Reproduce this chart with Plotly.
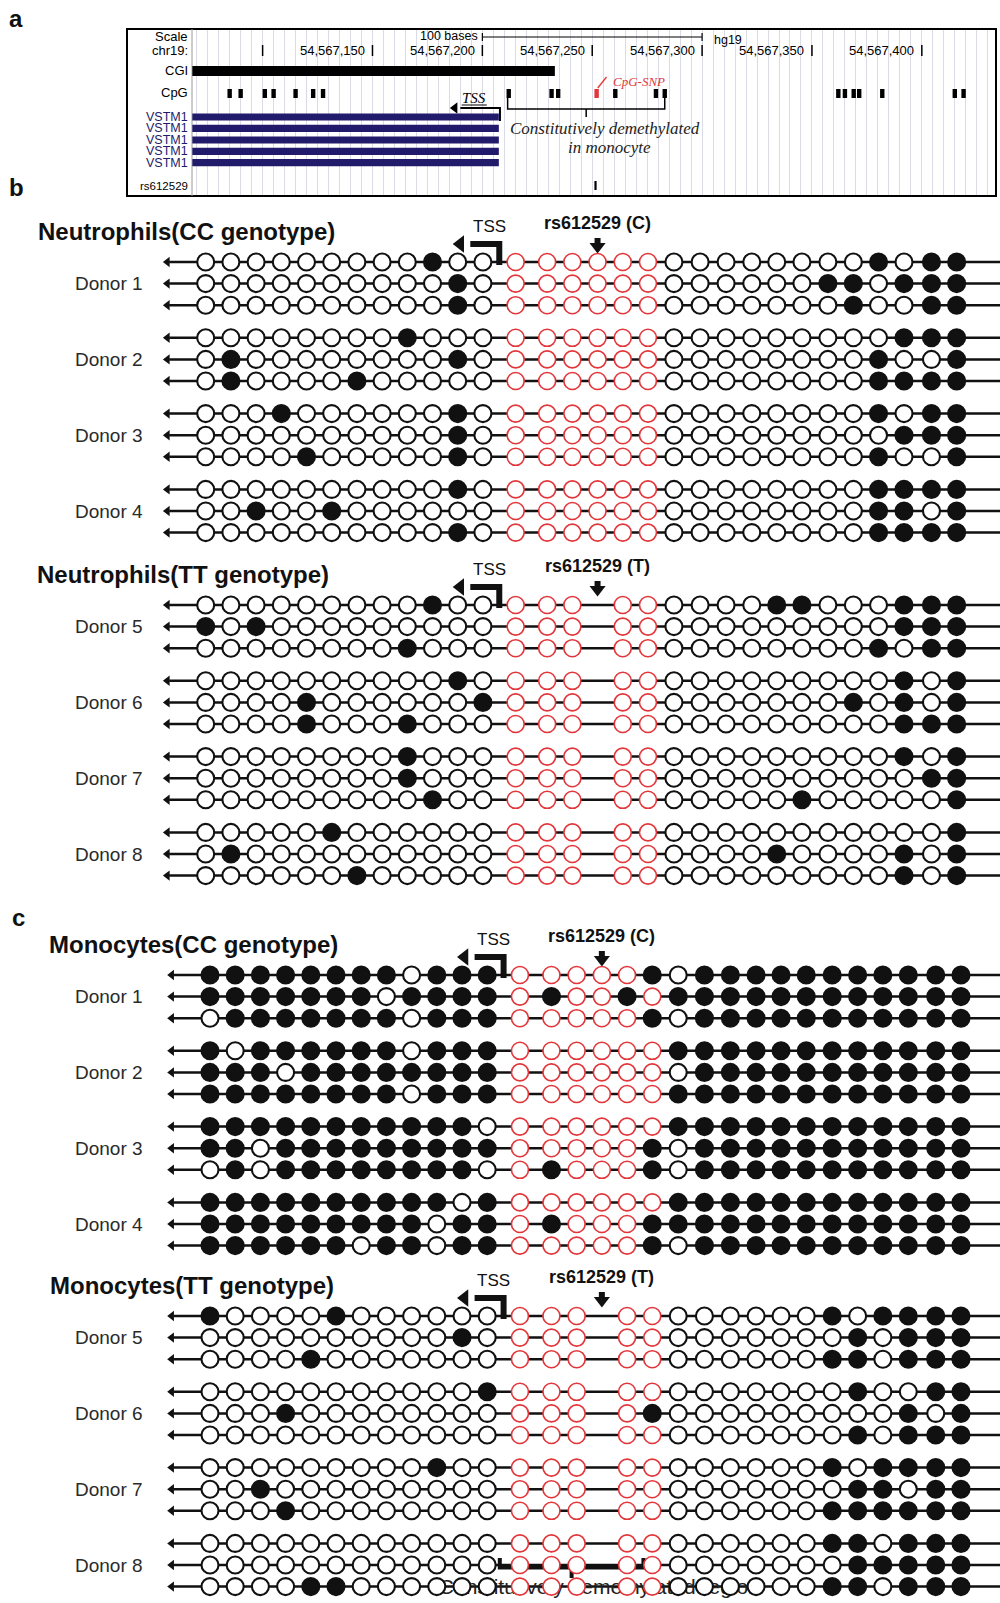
import plotly.graph_objects as go

W, H = 1000, 1603
CHR_START = 54567000  # chr19 coordinate origin for panel a offsets

# ---------------- Panel a data (bases relative to chr19:54,567,000) ----------------
ruler_ticks = [100, 150, 200, 250, 300, 350, 400]
ruler_labels = ["", "54,567,150", "54,567,200", "54,567,250", "54,567,300", "54,567,350", "54,567,400"]
scale_bar = [200, 300]
cgi_span = [68, 233]
cpg_sites = [84, 89, 100, 104, 114, 122, 126.5, 211, 230.5, 233.5, 251, 259.5,
             278, 282, 361, 364, 368, 370.5, 381, 414, 418]
cpg_snp_site = 251
vstm1_starts = [68, 68, 68, 68, 68]
vstm1_ends = [207.5, 207.5, 207.5, 207.5, 207.5]
tss_site = 208
demeth_span = [211.5, 283]
rs612529_site = 251

# ---------------- Panels b, c data ----------------
# relative CpG positions along the bisulfite amplicon (30 CpGs)
cpg_pos = [0, 1, 2, 3, 4, 5, 6, 7, 8, 9, 10, 11,
           12.3, 13.55, 14.55, 15.55, 16.55, 17.55,
           18.58, 19.62, 20.65, 21.67, 22.66, 23.66, 24.69, 25.7, 26.7, 27.71, 28.8, 29.8]
region_idx = [12, 13, 14, 15, 16, 17]   # constitutively demethylated region (red)
snp_idx = 15                            # rs612529 CpG-SNP
tss_pos = 11.65

# '1' methylated, '0' unmethylated, '-' CpG absent (T allele)
neut_cc_rows = [
    "000000000100" "000000" "000000001011",
    "000000000010" "000000" "000000110111",
    "000000000010" "000000" "000000010011",
    "000000001000" "000000" "000000000111",
    "010000000010" "000000" "000000001001",
    "010000100000" "000000" "000000001111",
    "000100000010" "000000" "000000001011",
    "000000000010" "000000" "000000000111",
    "000010000010" "000000" "000000001001",
    "000000000010" "000000" "000000001111",
    "001001000000" "000000" "000000001101",
    "000000000010" "000000" "000000001111",
]
neut_tt_rows = [
    "000000000100" "000-00" "000011000111",
    "101000000000" "000-00" "000000000111",
    "000000001000" "000-00" "000000001011",
    "000000000010" "000-00" "000000000101",
    "000010000001" "000-00" "000000010101",
    "000010001000" "000-00" "000000000111",
    "000000001000" "000-00" "000000000101",
    "000000001000" "000-00" "000000000011",
    "000000000100" "000-00" "000001000001",
    "000001000000" "000-00" "000000000001",
    "010000000000" "000-00" "000010000101",
    "000000100000" "000-00" "000000000101",
]
mono_cc_rows = [
    "111111110111" "000001" "011111111111",
    "111111101111" "010010" "111111111111",
    "011111110111" "000001" "011111111111",
    "101111110111" "000000" "111111111111",
    "111011111111" "000000" "011111111111",
    "111111110111" "000000" "111111111111",
    "111111111110" "000000" "111111111111",
    "110111111111" "000001" "011111111111",
    "010111111110" "010001" "011111111111",
    "111111111101" "000000" "111111111111",
    "111111111011" "010001" "111111111111",
    "111111011011" "000001" "011111111111",
]
mono_tt_rows = [
    "100001000000" "000-00" "000000101111",
    "000000000010" "000-00" "000000010111",
    "000010000000" "000-00" "000000110111",
    "000000000001" "000-00" "000000010011",
    "000100000000" "000-01" "000000000101",
    "000000000000" "000-00" "000000010111",
    "000000000100" "000-00" "000000101111",
    "001000000000" "000-00" "000000011011",
    "000100000000" "000-00" "000000111111",
    "000000000000" "000-00" "000000110111",
    "000000000000" "000-00" "000000011111",
    "000011000000" "000-00" "000000110111",
]
donors_first = ["Donor 1", "Donor 2", "Donor 3", "Donor 4"]
donors_second = ["Donor 5", "Donor 6", "Donor 7", "Donor 8"]

# ---------------- layout constants ----------------
FONT = "Liberation Sans, Arial, sans-serif"
SERIF = "Liberation Serif, Times New Roman, serif"
NAVY = "#221a6b"
RED = "#e2363a"
BLACK = "#111111"
DONOR_GAP = 75.8
ROW_GAP = 21.6


def G(off):
    return CHR_START + off


fig = go.Figure()
shapes = []
ann = []

# ================= Panel a =================
XA, YA = "x", "y2"
shapes.append(dict(type="rect", xref="paper", yref="paper", x0=127 / W, x1=996 / W,
                   y0=1 - 196 / H, y1=1 - 29 / H, line=dict(color="black", width=2)))
shapes.append(dict(type="line", xref="paper", yref="paper", x0=192 / W, x1=192 / W,
                   y0=1 - 196 / H, y1=1 - 29 / H, line=dict(color="#9a9a9a", width=1)))

Y_CGI = 71
left_labels = [("Scale", 37, "black", 13), ("chr19:", 51, "black", 13), ("CGI", Y_CGI, "black", 13),
               ("CpG", 93, "black", 13)]
vstm_y = [117, 128.3, 140, 151.3, 162.7]
for yv in vstm_y:
    left_labels.append(("VSTM1", yv, NAVY, 12.5))
left_labels.append(("rs612529", 186, "black", 11.5))
for txt, yv, col, sz in left_labels:
    ann.append(dict(text=txt, xref="paper", yref=YA, x=190 / W, y=yv, xanchor="right",
                    yanchor="middle", showarrow=False, font=dict(family=FONT, size=sz, color=col)))

# scale bar
sb_x = [G(scale_bar[0]), G(scale_bar[1]), None, G(scale_bar[0]), G(scale_bar[0]), None,
        G(scale_bar[1]), G(scale_bar[1])]
sb_y = [37, 37, None, 33, 41, None, 33, 41]
fig.add_trace(go.Scatter(x=sb_x, y=sb_y, xaxis=XA, yaxis=YA, mode="lines",
                         line=dict(color="black", width=1.2), hoverinfo="skip"))
ann.append(dict(text="100 bases", xref=XA, yref=YA, x=G(scale_bar[0] - 1), y=36, xanchor="right",
                showarrow=False, font=dict(family=FONT, size=12.5, color="black")))
ann.append(dict(text="hg19", xref=XA, yref=YA, x=G(scale_bar[1] + 4.5), y=40, xanchor="left",
                showarrow=False, font=dict(family=FONT, size=12.5, color="black")))

# ruler
rx, ry = [], []
for t in ruler_ticks:
    rx += [G(t), G(t), None]
    ry += [45, 56, None]
fig.add_trace(go.Scatter(x=rx, y=ry, xaxis=XA, yaxis=YA, mode="lines",
                         line=dict(color="black", width=1.5), hoverinfo="skip"))
for t, lab in zip(ruler_ticks, ruler_labels):
    if lab:
        ann.append(dict(text=lab, xref=XA, yref=YA, x=G(t - 2.5), y=51, xanchor="right",
                        showarrow=False, font=dict(family=FONT, size=13, color="black")))

# CGI
shapes.append(dict(type="rect", xref=XA, yref=YA, x0=G(cgi_span[0]), x1=G(cgi_span[1]),
                   y0=Y_CGI - 5, y1=Y_CGI + 5, fillcolor="black", line=dict(width=0)))
# CpG sites
for s in cpg_sites:
    col = RED if s == cpg_snp_site else "black"
    shapes.append(dict(type="rect", xref=XA, yref=YA, x0=G(s), x1=G(s + 2),
                       y0=89, y1=98, fillcolor=col, line=dict(width=0)))
ann.append(dict(text="<i>CpG-SNP</i>", xref=XA, yref=YA, x=G(cpg_snp_site + 20.5), y=82,
                showarrow=False, font=dict(family=SERIF, size=13, color=RED)))
fig.add_trace(go.Scatter(x=[G(cpg_snp_site + 1.5), G(cpg_snp_site + 5.5)], y=[88, 77],
                         xaxis=XA, yaxis=YA, mode="lines", line=dict(color=RED, width=1.3),
                         hoverinfo="skip"))
# VSTM1 transcripts
for st, en, yv in zip(vstm1_starts, vstm1_ends, vstm_y):
    shapes.append(dict(type="rect", xref=XA, yref=YA, x0=G(st), x1=G(en), y0=yv - 3.6,
                       y1=yv + 3.6, fillcolor=NAVY, line=dict(width=0)))
# TSS arrow
fig.add_trace(go.Scatter(x=[G(tss_site), G(tss_site), G(190)], y=[121, 108, 108],
                         xaxis=XA, yaxis=YA, mode="lines", line=dict(color="black", width=2),
                         hoverinfo="skip"))
fig.add_trace(go.Scatter(x=[G(187.5)], y=[108], xaxis=XA, yaxis=YA, mode="markers",
                         marker=dict(symbol="triangle-left", size=10, color="black"),
                         hoverinfo="skip"))
ann.append(dict(text="<i>TSS</i>", xref=XA, yref=YA, x=G(196.3), y=98,
                showarrow=False, font=dict(family=SERIF, size=15, color="black")))
fig.add_trace(go.Scatter(x=[G(190.6), G(202)], y=[105, 105], xaxis=XA, yaxis=YA, mode="lines",
                         line=dict(color="black", width=1), hoverinfo="skip"))
# bracket: constitutively demethylated region
mid = (demeth_span[0] + demeth_span[1]) / 2
fig.add_trace(go.Scatter(
    x=[G(demeth_span[0]), G(demeth_span[0]), G(demeth_span[1]), G(demeth_span[1]), None, G(mid), G(mid)],
    y=[98, 109, 109, 98, None, 109, 117], xaxis=XA, yaxis=YA, mode="lines",
    line=dict(color="black", width=1.5), hoverinfo="skip"))
ann.append(dict(text="<i>Constitutively demethylated</i>", xref=XA, yref=YA, x=G(mid + 8.5), y=129,
                showarrow=False, font=dict(family=SERIF, size=17, color="#222")))
ann.append(dict(text="<i>in monocyte</i>", xref=XA, yref=YA, x=G(mid + 10.5), y=148,
                showarrow=False, font=dict(family=SERIF, size=17, color="#222")))
# rs612529 track
shapes.append(dict(type="rect", xref=XA, yref=YA, x0=G(rs612529_site), x1=G(rs612529_site + 1),
                   y0=181, y1=190, fillcolor="black", line=dict(width=0)))

# ================= Panels b, c =================
sections = [
    dict(title="Neutrophils(CC genotype)", rows=neut_cc_rows, allele="C", donors=donors_first,
         y0=262, xa="x2", title_px=36),
    dict(title="Neutrophils(TT genotype)", rows=neut_tt_rows, allele="T", donors=donors_second,
         y0=605, xa="x2", title_px=35),
    dict(title="Monocytes(CC genotype)", rows=mono_cc_rows, allele="C", donors=donors_first,
         y0=975, xa="x3", title_px=47),
    dict(title="Monocytes(TT genotype)", rows=mono_tt_rows, allele="T", donors=donors_second,
         y0=1316, xa="x3", title_px=48),
]

groups = {}
for xa in ["x2", "x3"]:
    groups[xa] = dict(lx=[], ly=[], hx=[], hy=[], tx=[], ty=[], ax=[], ay=[],
                      ox=[], oy=[], rx=[], ry=[], fx=[], fy=[], thx=[], thy=[], sax=[], say=[])

for s in sections:
    g = groups[s["xa"]]
    y0 = s["y0"]
    for i, row in enumerate(s["rows"]):
        d, r = divmod(i, 3)
        yy = y0 + d * DONOR_GAP + r * ROW_GAP
        g["lx"] += [-1.45, 31.8, None]
        g["ly"] += [yy, yy, None]
        g["hx"].append(-1.52)
        g["hy"].append(yy)
        for k, ch in enumerate(row):
            if ch == "-":
                continue
            if ch == "1":
                g["fx"].append(cpg_pos[k]); g["fy"].append(yy)
            elif k in region_idx:
                g["rx"].append(cpg_pos[k]); g["ry"].append(yy)
            else:
                g["ox"].append(cpg_pos[k]); g["oy"].append(yy)
    # TSS bent arrow
    g["tx"] += [tss_pos, tss_pos, 10.5, None]
    g["ty"] += [y0 + 3, y0 - 18, y0 - 18, None]
    g["thx"].append(10.1)
    g["thy"].append(y0 - 18)
    # SNP arrow
    xs = cpg_pos[snp_idx]
    g["ax"] += [xs, xs, None]
    g["ay"] += [y0 - 24, y0 - 16, None]
    g["sax"].append(xs)
    g["say"].append(y0 - 15.5)
    # texts
    ann.append(dict(text="<b>%s</b>" % s["title"], xref="paper", yref="y", x=s["title_px"] / W,
                    y=y0 - 31, xanchor="left", showarrow=False,
                    font=dict(family=FONT, size=24, color=BLACK)))
    ann.append(dict(text="<b>rs612529 (%s)</b>" % s["allele"], xref=s["xa"], yref="y", x=xs,
                    y=y0 - 39, xanchor="center", showarrow=False,
                    font=dict(family=FONT, size=18, color=BLACK)))
    ann.append(dict(text="TSS", xref=s["xa"], yref="y", x=tss_pos - 0.4, y=y0 - 36,
                    xanchor="center", showarrow=False, font=dict(family=FONT, size=17, color=BLACK)))
    for d, name in enumerate(s["donors"]):
        ann.append(dict(text=name, xref="paper", yref="y", x=109 / W, xanchor="center",
                        y=y0 + d * DONOR_GAP + ROW_GAP, showarrow=False,
                        font=dict(family=FONT, size=19, color="#2a2a2a")))

# lines first
for xa, g in groups.items():
    fig.add_trace(go.Scatter(x=g["lx"], y=g["ly"], xaxis=xa, yaxis="y", mode="lines",
                             line=dict(color=BLACK, width=2.5), hoverinfo="skip"))
    fig.add_trace(go.Scatter(x=g["hx"], y=g["hy"], xaxis=xa, yaxis="y", mode="markers",
                             marker=dict(symbol="triangle-left", size=9, color=BLACK),
                             hoverinfo="skip"))
    fig.add_trace(go.Scatter(x=g["tx"], y=g["ty"], xaxis=xa, yaxis="y", mode="lines",
                             line=dict(color=BLACK, width=6), hoverinfo="skip"))
    fig.add_trace(go.Scatter(x=g["thx"], y=g["thy"], xaxis=xa, yaxis="y", mode="markers",
                             marker=dict(symbol="triangle-left", size=15, color=BLACK),
                             hoverinfo="skip"))
    fig.add_trace(go.Scatter(x=g["ax"], y=g["ay"], xaxis=xa, yaxis="y", mode="lines",
                             line=dict(color=BLACK, width=6), hoverinfo="skip"))
    fig.add_trace(go.Scatter(x=g["sax"], y=g["say"], xaxis=xa, yaxis="y", mode="markers",
                             marker=dict(symbol="triangle-down", size=14, color=BLACK),
                             hoverinfo="skip"))

# bottom overlapping label of the demethylated region (behind circles)
last = sections[-1]
yb = last["y0"] + 3 * DONOR_GAP + 1.0 * ROW_GAP
bx0 = cpg_pos[region_idx[0]] - 0.8
bx1 = cpg_pos[region_idx[-1]] - 0.35
bmid = (bx0 + bx1) / 2
fig.add_trace(go.Scatter(x=[bx0, bx0, bx1, bx1, None, bmid, bmid],
                         y=[yb - 7, yb + 2.5, yb + 2.5, yb - 7, None, yb + 2.5, yb + 13],
                         xaxis=last["xa"], yaxis="y", mode="lines",
                         line=dict(color=BLACK, width=4), hoverinfo="skip"))
fig.add_trace(go.Scatter(x=[cpg_pos[snp_idx] - 0.1], y=[last["y0"] + 3 * DONOR_GAP + 2 * ROW_GAP + 2],
                         xaxis=last["xa"], yaxis="y", mode="text",
                         text=["Constitutively demethylated region"], textposition="middle center",
                         textfont=dict(family=FONT, size=21, color="#222"), hoverinfo="skip"))

# circles on top
for xa, g in groups.items():
    fig.add_trace(go.Scatter(x=g["ox"], y=g["oy"], xaxis=xa, yaxis="y", mode="markers",
                             marker=dict(symbol="circle", size=17, color="white",
                                         line=dict(color=BLACK, width=2.1)), hoverinfo="skip"))
    fig.add_trace(go.Scatter(x=g["rx"], y=g["ry"], xaxis=xa, yaxis="y", mode="markers",
                             marker=dict(symbol="circle", size=17, color="white",
                                         line=dict(color=RED, width=1.6)), hoverinfo="skip"))
    fig.add_trace(go.Scatter(x=g["fx"], y=g["fy"], xaxis=xa, yaxis="y", mode="markers",
                             marker=dict(symbol="circle", size=17, color=BLACK,
                                         line=dict(color=BLACK, width=2.1)), hoverinfo="skip"))

# panel letters
for letter, px, py in [("a", 16, 18), ("b", 16, 187), ("c", 18, 917)]:
    ann.append(dict(text="<b>%s</b>" % letter, xref="paper", yref="y", x=px / W, y=py,
                    xanchor="center", showarrow=False, font=dict(family=FONT, size=24, color=BLACK)))

hidden = dict(visible=False, showgrid=False, zeroline=False)
fig.update_layout(
    width=W, height=H, margin=dict(l=0, r=0, t=0, b=0),
    paper_bgcolor="white", plot_bgcolor="rgba(0,0,0,0)", showlegend=False,
    font=dict(family=FONT),
    xaxis=dict(domain=[192 / W, 995 / W], range=[G(67.86), G(433.3)], anchor="y2",
               showgrid=True, gridcolor="#d9dce6", gridwidth=1, tick0=G(0), dtick=5,
               showticklabels=False, ticks="", showline=False, zeroline=False, fixedrange=True),
    yaxis2=dict(domain=[1 - 196 / H, 1 - 29 / H], range=[196, 29], anchor="x", **hidden),
    xaxis2=dict(domain=[0, 1], range=[-205.7 / 25.2, (W - 205.7) / 25.2], anchor="y", **hidden),
    xaxis3=dict(domain=[0, 1], range=[-210.0 / 25.2, (W - 210.0) / 25.2], anchor="y",
                overlaying="x2", **hidden),
    yaxis=dict(domain=[0, 1], range=[H, 0], anchor="x2", **hidden),
    shapes=shapes, annotations=ann,
)

fig.write_html("out.html", config={"staticPlot": True},
               post_script="document.body.style.margin='0px';document.body.style.overflow='hidden';")
